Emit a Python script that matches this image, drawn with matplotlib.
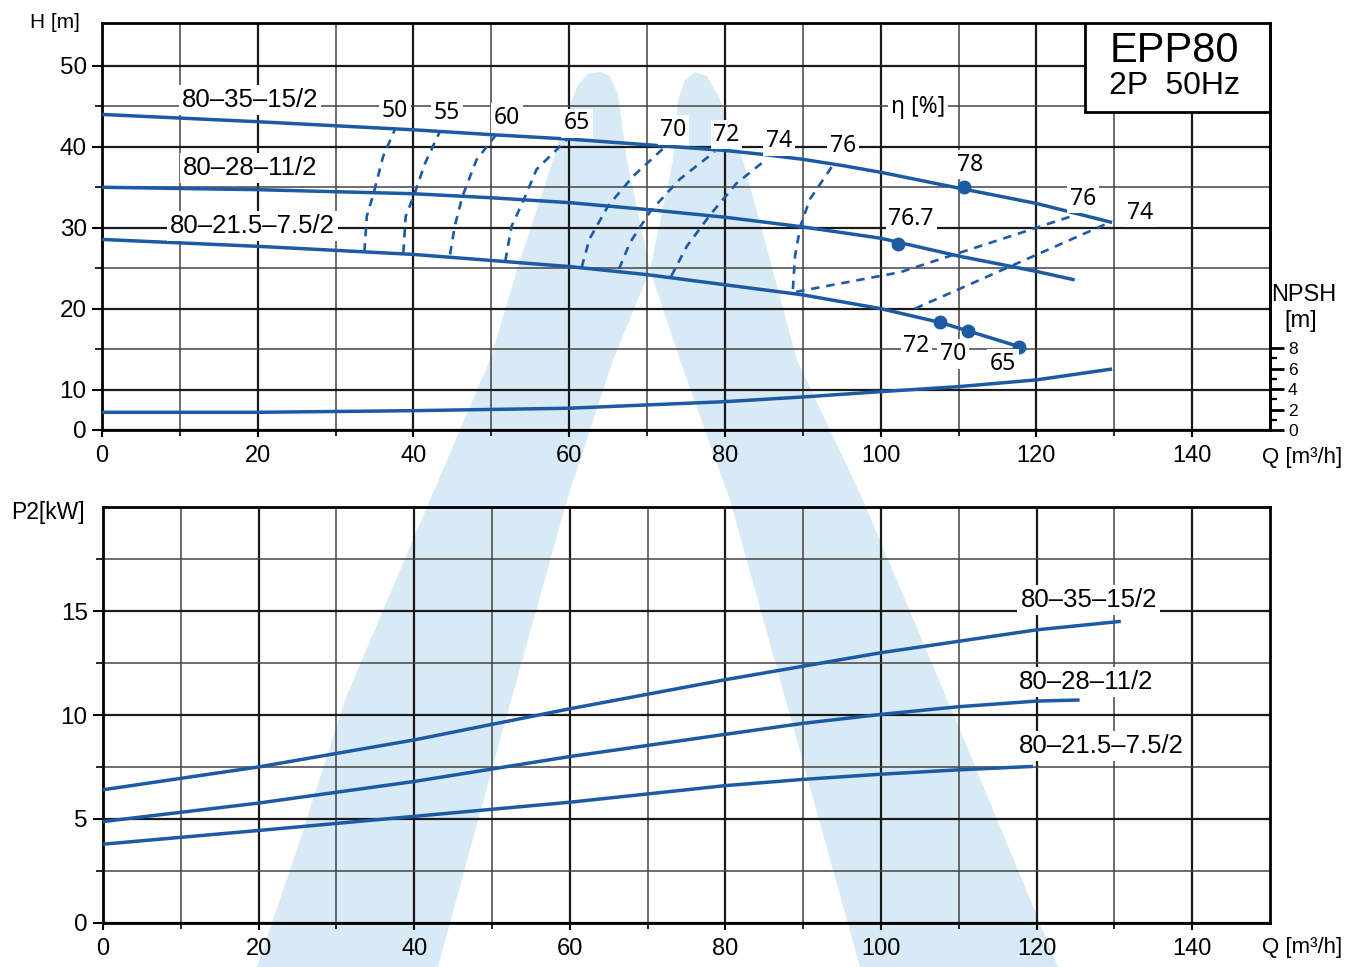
import numpy as np
import matplotlib
matplotlib.use("Agg")
import matplotlib.pyplot as plt
from matplotlib.patches import Polygon, Rectangle

plt.rcParams['font.family'] = ['Liberation Sans', 'DejaVu Sans']

# ---------------- data ----------------
# Head curves H [m] vs Q [m3/h]
q_h15 = [0, 20, 40, 50, 60, 70, 80, 85, 90, 95, 100, 110, 120, 129.5]
h_15 = [44.0, 43.1, 42.1, 41.5, 40.95, 40.25, 39.55, 39.05, 38.45, 37.7, 36.85, 34.9, 33.0, 30.7]
q_h11 = [0, 20, 40, 50, 60, 70, 80, 90, 100, 110, 120, 124.7]
h_11 = [35.0, 34.7, 34.2, 33.7, 33.1, 32.25, 31.3, 30.1, 28.7, 26.5, 24.6, 23.6]
q_h7 = [0, 20, 40, 60, 70, 80, 90, 100, 107.6, 111.2, 117.8]
h_7 = [28.55, 27.7, 26.7, 25.2, 24.2, 22.95, 21.7, 20.0, 18.3, 17.25, 15.3]

# NPSH [m]
q_npsh = [0, 20, 40, 60, 80, 90, 100, 110, 120, 129.5]
npsh = [1.73, 1.73, 1.89, 2.13, 2.77, 3.23, 3.75, 4.24, 4.9, 5.94]
npsh_ticks = [0, 2, 4, 6, 8]

# iso-efficiency lines (Q, H)
eff_labels = ["50", "55", "60", "65", "70", "72", "74", "76"]
eff_q = [
    [33.7, 34.0, 34.9, 36.1, 37.6],
    [38.7, 39.0, 40.1, 41.5, 43.4],
    [44.7, 45.3, 46.3, 48.1, 50.7],
    [51.8, 52.6, 54.1, 55.8, 59.7],
    [61.6, 62.6, 65.0, 68.2, 72.3],
    [66.4, 67.8, 70.4, 74.2, 78.7],
    [73.1, 75.1, 78.1, 81.5, 85.4],
    [93.7, 90.9, 89.7, 89.0, 88.7, 102.5, 125.1],
]
eff_h = [
    [27.05, 31.4, 34.3, 38.8, 42.1],
    [26.9, 31.4, 34.1, 38.0, 41.9],
    [26.7, 30.2, 33.9, 38.4, 41.6],
    [25.9, 30.2, 33.3, 37.2, 40.9],
    [25.1, 28.6, 32.7, 36.35, 40.0],
    [24.9, 28.15, 32.0, 36.0, 39.4],
    [24.0, 27.7, 31.6, 35.5, 38.5],
    [37.5, 33.5, 30.2, 26.5, 22.0, 24.5, 31.6],
]
eff74b_q = [104.4, 129.5]
eff74b_h = [20.0, 30.7]

# efficiency label positions
eff_lab_q = [37.6, 44.3, 52.0, 61.0, 73.4, 80.2, 86.9, 95.2]
eff_lab_h = [44.4, 44.2, 43.55, 42.9, 42.1, 41.5, 40.7, 40.05]

# best-efficiency points
pt_q = [110.7, 102.2, 107.6, 111.2, 117.8]
pt_h = [35.0, 28.0, 18.3, 17.25, 15.3]
pt_lab = ["78", "76.7", "72", "70", "65"]
pt_lab_q = [111.5, 103.9, 104.6, 109.3, 115.7]
pt_lab_h = [37.8, 31.1, 15.4, 14.4, 13.2]
side_lab = ["76", "74"]
side_lab_q = [126.0, 133.3]
side_lab_h = [33.6, 31.85]

# Power P2 [kW]
q_p15 = [0, 20, 40, 60, 70, 80, 90, 100, 110, 120, 130.6]
p_15 = [6.4, 7.5, 8.8, 10.3, 11.0, 11.7, 12.35, 13.0, 13.55, 14.1, 14.5]
q_p11 = [0, 20, 40, 60, 80, 90, 100, 110, 120, 125.3]
p_11 = [4.87, 5.76, 6.8, 8.0, 9.07, 9.6, 10.03, 10.4, 10.67, 10.72]
q_p7 = [0, 20, 40, 60, 80, 90, 100, 110, 119.3]
p_7 = [3.78, 4.44, 5.12, 5.8, 6.6, 6.9, 7.15, 7.36, 7.52]

models = ["80\u201335\u201315/2", "80\u201328\u201311/2", "80\u201321.5\u20137.5/2"]
h_lab_q = [19.0, 19.0, 19.3]
h_lab_h = [45.8, 37.4, 30.2]
p_lab_q = [126.7, 126.4, 128.3]
p_lab_p = [15.55, 11.57, 8.49]

BLUE = '#1d5aa4'
WM = '#d8eaf6'
GRID_MAJ = '#1a1a1a'
GRID_MIN = '#444444'

W, H = 1359, 967
fig = plt.figure(figsize=(W / 100, H / 100), dpi=100)
fig.patch.set_facecolor('white')

# ---------- watermark (decorative) ----------
left_stroke = [(257, 967), (300, 840), (345, 700), (430, 500), (490, 360), (520, 260),
               (553, 160), (570, 105), (578, 85), (588, 74), (600, 72), (610, 76),
               (618, 95), (627, 160), (650, 270), (613, 360), (567, 500), (500, 740),
               (438, 967)]
right_stroke = [(860, 967), (730, 500), (680, 360), (650, 270), (673, 160), (678, 100),
                (685, 80), (695, 72), (707, 76), (718, 95), (743, 160), (770, 260),
                (797, 360), (863, 500), (960, 730), (1058, 967)]
for shape in (left_stroke, right_stroke):
    pts = [(x / W, 1 - y / H) for x, y in shape]
    fig.add_artist(Polygon(pts, closed=True, transform=fig.transFigure,
                           facecolor=WM, edgecolor='none', zorder=-5))


def fwd(h):
    h = np.asarray(h, dtype=float)
    return np.where(h >= 10, h, 5 + h / 2)


def inv(u):
    u = np.asarray(u, dtype=float)
    return np.where(u >= 10, u, (u - 5) * 2)


def style_axes(a):
    a.set_facecolor('none')
    for s in a.spines.values():
        s.set_linewidth(2.0)
        s.set_color('black')
    a.grid(which='major', color=GRID_MAJ, lw=1.6)
    a.grid(which='minor', color=GRID_MIN, lw=1.1)
    a.tick_params(axis='x', which='major', direction='out', length=5, width=1.5,
                  labelsize=17, pad=6)
    a.tick_params(axis='x', which='minor', direction='out', length=4, width=1.2)
    a.tick_params(axis='y', which='major', direction='out', length=7, width=1.5,
                  labelsize=17.5, pad=4)
    a.tick_params(axis='y', which='minor', direction='out', length=5, width=1.2)


# ---------- top axes: H ----------
ax = fig.add_axes([102 / W, 1 - 430 / H, (1270 - 102) / W, (430 - 23) / H])
ax.set_yscale('function', functions=(fwd, inv))
ax.set_xlim(0, 150)
ax.set_ylim(0, 55.3)
ax.set_xticks(np.arange(0, 141, 20))
ax.set_xticks(np.arange(10, 141, 20), minor=True)
ax.set_yticks([0, 10, 20, 30, 40, 50])
ax.set_yticks([15, 25, 35, 45], minor=True)
ax.yaxis.set_minor_formatter(plt.NullFormatter())
style_axes(ax)

lw_main = 2.5
ax.plot(q_h15, h_15, color=BLUE, lw=lw_main, zorder=3)
ax.plot(q_h11, h_11, color=BLUE, lw=lw_main, zorder=3)
ax.plot(q_h7, h_7, color=BLUE, lw=lw_main, zorder=3)
for qs, hs in zip(eff_q, eff_h):
    ax.plot(qs, hs, color=BLUE, lw=1.9, ls=(0, (3.2, 2.6)), zorder=3)
ax.plot(eff74b_q, eff74b_h, color=BLUE, lw=1.9, ls=(0, (3.2, 2.6)), zorder=3)
ax.plot(pt_q, pt_h, 'o', color=BLUE, ms=9, zorder=4)

box = dict(boxstyle='square,pad=0.12', fc='white', ec='none')
for t, q, h in zip(models, h_lab_q, h_lab_h):
    ax.text(q, h, t, fontsize=18.5, ha='center', va='center', bbox=box, zorder=5)
eff_font = ['Noto Sans', 'DejaVu Sans']
for t, q, h in zip(eff_labels, eff_lab_q, eff_lab_h):
    ax.text(q, h, t, fontsize=16.5, family=eff_font, ha='center', va='center',
            bbox=box, zorder=5)
for t, q, h in zip(pt_lab, pt_lab_q, pt_lab_h):
    ax.text(q, h, t, fontsize=16.5, family=eff_font, ha='center', va='center',
            bbox=box, zorder=5)
for t, q, h in zip(side_lab, side_lab_q, side_lab_h):
    ax.text(q, h, t, fontsize=16.5, family=eff_font, ha='center', va='center',
            bbox=box, zorder=5)
ax.text(104.8, 44.95, "\u03b7 [%]", fontsize=16.5, family=eff_font, ha='center',
        va='center', bbox=box, zorder=5)

# title box
ax.add_patch(Rectangle((0.8416, 0.782), 1 - 0.8416, 1 - 0.782, transform=ax.transAxes,
                       facecolor='white', edgecolor='black', lw=2, zorder=6))
ax.text(0.9185, 0.93, "EPP80", transform=ax.transAxes, fontsize=30,
        ha='center', va='center', zorder=7)
ax.text(0.9185, 0.845, "2P  50Hz", transform=ax.transAxes, fontsize=23,
        ha='center', va='center', zorder=7)

# NPSH on a twin axis
axn = ax.twinx()
axn.set_ylim(0, 39.8)
axn.plot(q_npsh, npsh, color=BLUE, lw=lw_main, zorder=3)
axn.set_yticks(npsh_ticks)
axn.set_yticklabels([str(v) for v in npsh_ticks], fontsize=12.5)
axn.set_yticks([1, 3, 5, 7], minor=True)
axn.tick_params(axis='y', which='major', direction='out', length=10, width=2, pad=3)
axn.tick_params(axis='y', which='minor', direction='out', length=5, width=1.6)
for s in axn.spines.values():
    s.set_visible(False)
axn.spines['right'].set_visible(True)
axn.spines['right'].set_linewidth(2.0)

# ---------- bottom axes: P2 ----------
axp = fig.add_axes([103 / W, 1 - 922.7 / H, (1270 - 103) / W, (922.7 - 507.3) / H])
axp.set_xlim(0, 150)
axp.set_ylim(0, 20)
axp.set_xticks(np.arange(0, 141, 20))
axp.set_xticks(np.arange(10, 141, 20), minor=True)
axp.set_yticks([0, 5, 10, 15])
axp.set_yticks([2.5, 7.5, 12.5, 17.5], minor=True)
style_axes(axp)
axp.plot(q_p15, p_15, color=BLUE, lw=lw_main, zorder=3)
axp.plot(q_p11, p_11, color=BLUE, lw=lw_main, zorder=3)
axp.plot(q_p7, p_7, color=BLUE, lw=lw_main, zorder=3)
for t, q, p in zip(models, p_lab_q, p_lab_p):
    axp.text(q, p, t, fontsize=18.5, ha='center', va='center', bbox=box, zorder=5)

# ---------- axis titles ----------
fig.text(55 / W, 1 - 22 / H, "H [m]", fontsize=15, ha='center', va='center')
fig.text(48 / W, 1 - 512 / H, "P2[kW]", fontsize=16.5, ha='center', va='center')
fig.text(1302 / W, 1 - 458 / H, "Q [m\u00b3/h]", fontsize=16, ha='center', va='center')
fig.text(1302 / W, 1 - 947 / H, "Q [m\u00b3/h]", fontsize=16, ha='center', va='center')
fig.text(1304 / W, 1 - 295 / H, "NPSH", fontsize=17, ha='center', va='center')
fig.text(1301 / W, 1 - 321 / H, "[m]", fontsize=17, ha='center', va='center')

fig.savefig("out.png", dpi=100, facecolor='white')
